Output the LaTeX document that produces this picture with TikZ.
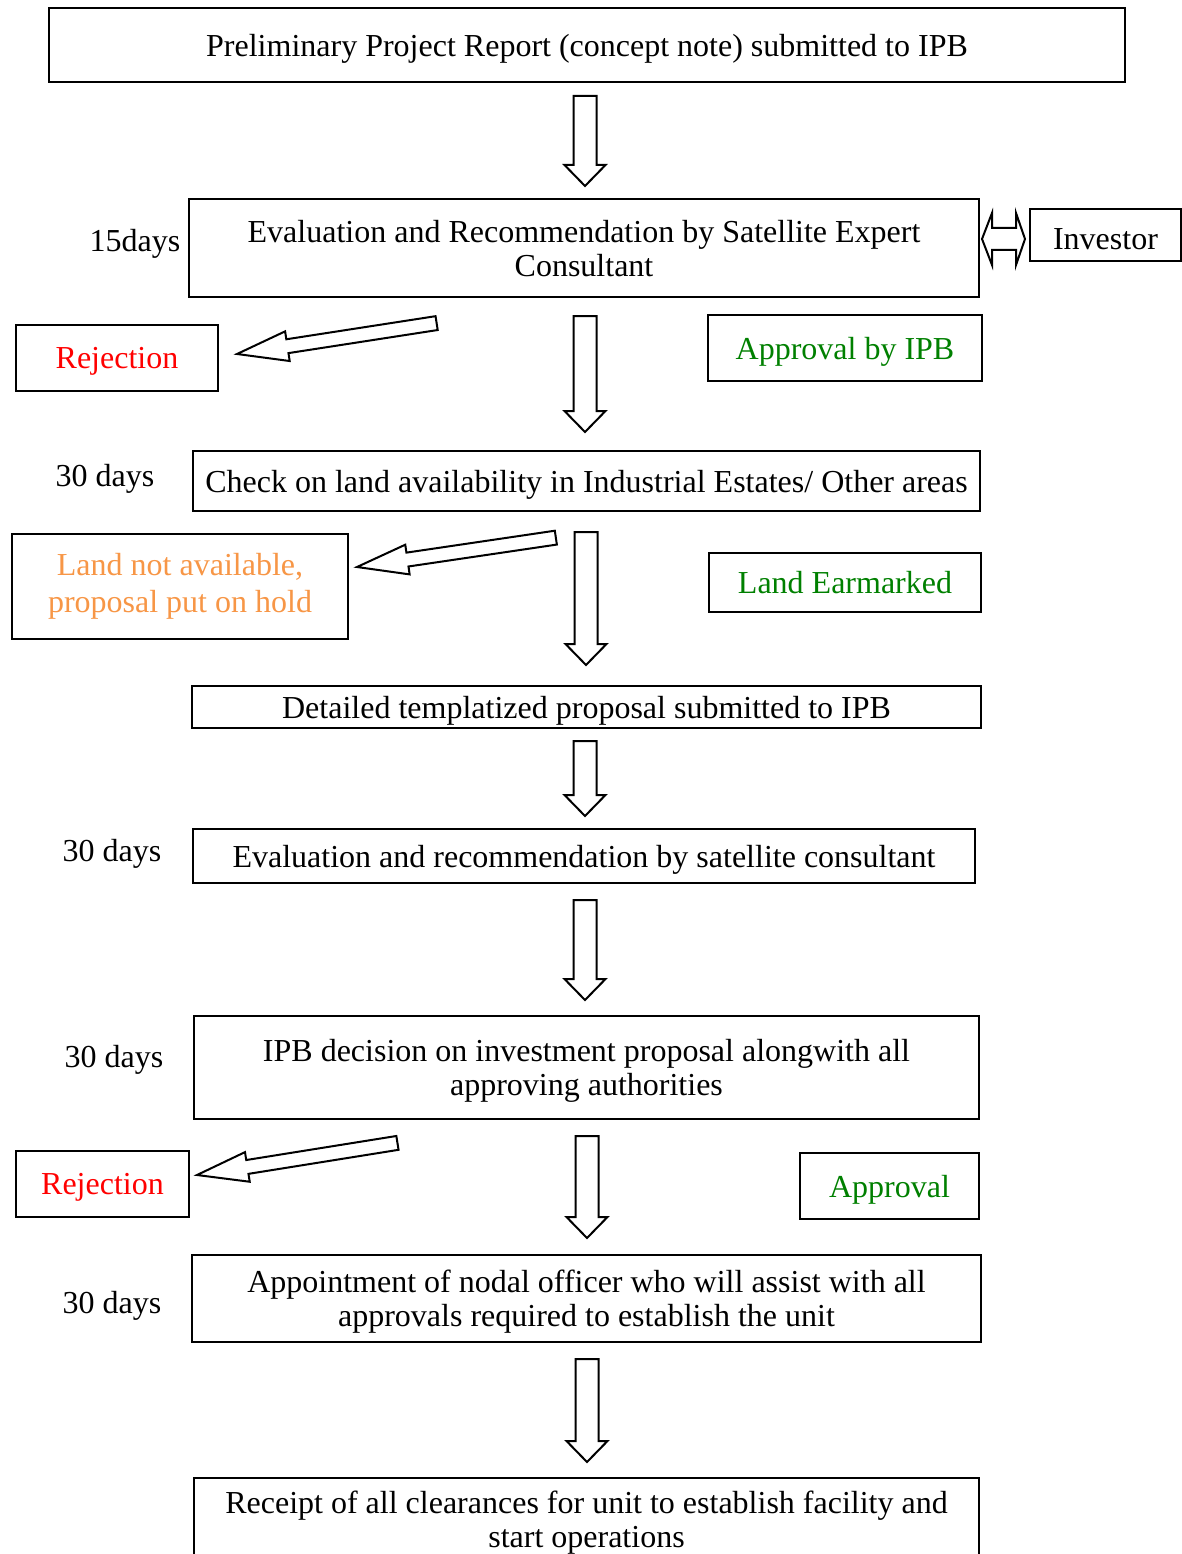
\documentclass[tikz,border=0pt]{standalone}
\usepackage{fontspec}
\setmainfont{Liberation Serif}
\definecolor{rejred}{RGB}{255,0,0}
\definecolor{okgreen}{RGB}{0,128,0}
\definecolor{holdorange}{RGB}{247,150,70}
\tikzset{
  box/.style={draw, line width=2.8pt, inner sep=0pt, align=center, text depth=0pt,
    font=\fontsize{32}{34}\selectfont},
  daylbl/.style={inner sep=0pt, text depth=0pt, font=\fontsize{32}{34}\selectfont},
  blockarr/.style={draw, line width=2pt, fill=white, line join=miter}
}
\newcommand\varrow[3]{%
  \draw[blockarr] (#1-11.5,#2) -- (#1+11.5,#2) -- (#1+11.5,#3-21) -- (#1+20.5,#3-21) -- (#1,#3)
    -- (#1-20.5,#3-21) -- (#1-11.5,#3-21) -- cycle;}
\newcommand\darrow[4]{%
  \draw[blockarr, shift={(#1,#2)}, rotate=#3] (0,0) -- (51,15) -- (51,7) -- (#4,7) -- (#4,-7)
    -- (51,-7) -- (51,-15) -- cycle;}
\begin{document}
\begin{tikzpicture}[x=1pt,y=-1pt]
\useasboundingbox (0,0) rectangle (1182,1554);
\clip (0,0) rectangle (1182,1554);
% boxes
\node[box, minimum width=1076pt, minimum height=74pt] (b1) at (587,45)
  {Preliminary Project Report (concept note) submitted to IPB};
\node[box, minimum width=790pt, minimum height=98pt] (b2) at (584,248)
  {Evaluation and Recommendation by Satellite Expert\\Consultant};
\node[box, minimum width=151pt, minimum height=52pt, text height=29pt] (inv) at (1105.5,235) {Investor};
\node[box, minimum width=202pt, minimum height=66pt, text=rejred] (rej1) at (117,358) {Rejection};
\node[box, minimum width=274pt, minimum height=66pt, text=okgreen] (appr1) at (845,348) {Approval by IPB};
\node[box, minimum width=787pt, minimum height=60pt] (b3) at (586.5,481)
  {Check on land availability in Industrial Estates/ Other areas};
\node[box, minimum width=336pt, minimum height=105pt, text=holdorange, text depth=7pt,
  font=\fontsize{32}{37}\selectfont] (hold) at (180,586.5)
  {Land not available,\\proposal put on hold};
\node[box, minimum width=272pt, minimum height=59pt, text=okgreen] (earm) at (845,582.5) {Land Earmarked};
\node[box, minimum width=789pt, minimum height=42pt] (b4) at (586.5,707)
  {Detailed templatized proposal submitted to IPB};
\node[box, minimum width=782pt, minimum height=54pt] (b5) at (584,856)
  {Evaluation and recommendation by satellite consultant};
\node[box, minimum width=785pt, minimum height=103pt] (b6) at (586.5,1067.5)
  {IPB decision on investment proposal alongwith all\\approving authorities};
\node[box, minimum width=173pt, minimum height=66pt, text=rejred] (rej2) at (102.5,1184) {Rejection};
\node[box, minimum width=179pt, minimum height=66pt, text=okgreen] (appr2) at (889.5,1186) {Approval};
\node[box, minimum width=789pt, minimum height=87pt] (b7) at (586.5,1298.5)
  {Appointment of nodal officer who will assist with all\\approvals required to establish the unit};
\node[box, minimum width=785pt, minimum height=82pt] (b8) at (586.5,1519)
  {Receipt of all clearances for unit to establish facility and\\start operations};
% day labels
\node[daylbl] (d1) at (135,240) {15days};
\node[daylbl] (d2) at (105,475) {30 days};
\node[daylbl] (d3) at (112,850) {30 days};
\node[daylbl] (d4) at (114,1056) {30 days};
\node[daylbl] (d5) at (112,1302) {30 days};
% vertical block arrows
\varrow{585}{96}{186}
\varrow{585}{316}{432}
\varrow{586}{532}{665}
\varrow{585}{741}{816}
\varrow{585}{900}{1000}
\varrow{587}{1136}{1238}
\varrow{587}{1359}{1462}
% diagonal block arrows (tip x, tip y, angle, length)
\darrow{237}{354}{8.8}{202}
\darrow{357}{567}{8.4}{201}
\darrow{197}{1175}{9.1}{203}
% double arrow between b2 and investor
\draw[blockarr] (982,239) -- (992,213) -- (992,228) -- (1016,228) -- (1016,213) -- (1025,239)
  -- (1016,265) -- (1016,250) -- (992,250) -- (992,265) -- cycle;
\end{tikzpicture}
\end{document}
